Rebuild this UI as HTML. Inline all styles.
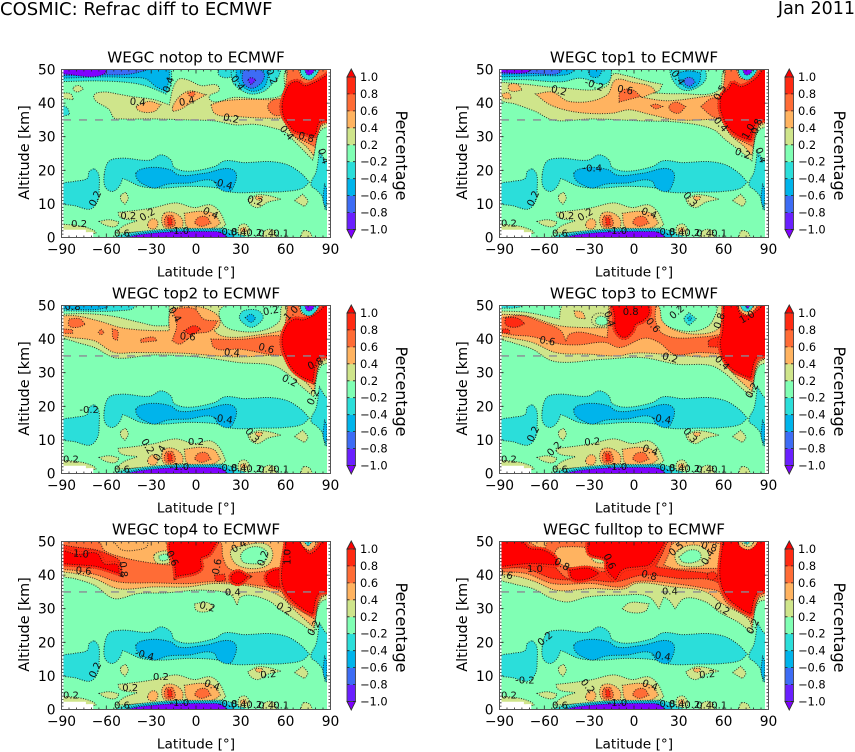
<!DOCTYPE html>
<html lang="en">
<head>
<meta charset="utf-8">
<title>COSMIC: Refrac diff to ECMWF</title>
<style>
html,body{margin:0;padding:0;background:#fff;}
svg{display:block;font-family:"DejaVu Sans","Liberation Sans",sans-serif;}
</style>
</head>
<body>
<svg id="figure" xmlns="http://www.w3.org/2000/svg" width="855" height="752" viewBox="0 0 855 752">
  <text x="0" y="15" font-size="18" fill="#000">COSMIC: Refrac diff to ECMWF</text>
  <text x="855" y="14" font-size="17.5" text-anchor="end" fill="#000">Jan 2011</text>
</svg>
<script>
const latTicks = [-90, -60, -30, 0, 30, 60, 90];
const altTicks = [0, 10, 20, 30, 40, 50];
const levelTicks = [-1, -0.8, -0.6, -0.4, -0.2, 0.2, 0.4, 0.6, 0.8, 1];
const referenceAltitude = [35];
const panelTitles = ["WEGC notop to ECMWF", "WEGC top1 to ECMWF", "WEGC top2 to ECMWF", "WEGC top3 to ECMWF", "WEGC top4 to ECMWF", "WEGC fulltop to ECMWF"];

/* Filled contour regions: [band lower level, [[latitude, altitude], ...]] */
const lowerRegions = [
  [-0.4, [[-61.4,18.7],[-58,22.8],[-50.3,23.6],[-30.2,23.1],[-23.5,24.6],[-16.8,23.1],[-14.5,20.8],[12.3,21.1],[19,22.8],[32.4,22.3],[50.2,22.6],[61.4,21.6],[70.3,19.1],[75.9,16.5],[71.4,14.7],[59.2,13.7],[43.5,13.5],[23.4,13.5],[14.5,14.7],[-5.6,15.2],[-23.5,14.7],[-36.9,15.2],[-46.9,17.2],[-49.1,17.5],[-51.4,15.2],[-55.8,13.7],[-60.3,14.7]]],
  [-0.6, [[-40.2,19.1],[-36.9,20.3],[-16.8,20.1],[-12.3,18.7],[5.6,19.1],[23.4,20.4],[26.8,19.1],[25.7,15.7],[22.3,13.7],[14.5,14.9],[12.3,16.7],[-5.6,16.2],[-19,15.9],[-27.9,14.7],[-33.5,15.5],[-39.1,17.2]]],
  [-0.4, [[-90,15.7],[-81.5,16.7],[-72.6,17.7],[-71.5,19.6],[-68.1,20.6],[-65.4,19.1],[-64.8,14.7],[-65.9,10.7],[-70.3,8.5],[-81.5,9.5],[-90,9.9]]],
  [-0.4, [[77,15.5],[80.4,19.6],[82.6,25.8],[86.4,23.1],[90,21.6],[90,8.7],[86.4,8.2],[84.4,12.2],[80.4,14.2]]],
  [-0.6, [[86,16],[87.5,14],[87,9],[85.5,10]]],
  [0.2, [[-53.6,1.3],[-49.1,3.3],[-39.1,5],[-51.4,6.3],[-52,7.5],[-41.3,8],[-27.9,8.9],[-13.4,10.3],[-1.1,8.9],[10,9.7],[15.6,7.8],[20,3.8],[16.7,2.8],[-5.6,2.3],[-27.9,1.8],[-41.3,1.6]]],
  [0.4, [[-21.2,7.2],[-15.6,7.5],[-9,5.3],[-9,3],[-21.2,3],[-23,5.2]]],
  [0.4, [[-7.8,7.2],[3.3,7.8],[12.3,7],[16.3,4.3],[12.3,3],[-5.6,3]]],
  [0.4, [[-32.4,3.8],[-29,5.6],[-25.7,4.8],[-26.8,2.8],[-31.3,2.8]]],
  [0.6, [[-20,6.3],[-15.6,6.6],[-14,3.8],[-17.9,3],[-20.8,3.8]]],
  [0.6, [[1,5.8],[6.7,6.2],[10,4.3],[3.3,3.3],[-1.1,4.3]]],
  [0.8, [[-19,5.8],[-16.8,5.8],[-16,3.8],[-18.6,3.6]]],
  [-0.4, [[-54.9,0],[-48.2,1],[-28.1,2.2],[-15,2.6],[-5.6,2.7],[8,2.7],[19,2.6],[31.3,0.7],[33,0]]],
  [-0.6, [[-48,0],[-43,0.8],[-28,1.8],[-15,2.2],[-5.6,2.3],[8,2.3],[17,2.2],[24,0.7],[26,0]]],
  [-1.2, [[-46,0],[-41,0.6],[-28,1.3],[-15,1.7],[-5.6,1.8],[8,1.8],[15,1.7],[19.6,0.7],[21,0]]],
  [0.2, [[66,11],[71.4,12.9],[74.8,10.7],[72.5,9.2],[67,10.7]]],
  [0.2, [[34.6,11.2],[41.3,12.7],[48,12.5],[57,11.4],[48,10.5],[41.3,8.9],[36.8,9.7]]],
  [0.4, [[40,12.2],[44.6,12.2],[43.5,11.2],[40,11.5]]],
  [0.2, [[-50.3,12.5],[-47,13.5],[-45.3,11.7],[-47.6,9.9],[-50.3,11.2]]],
  [0.2, [[-64.8,4.8],[-58,5.3],[-51.4,4.6],[-53.6,3.3],[-61.4,3.8]]],
  [0.2, [[-90,4],[-80,3.6],[-72,2.8],[-67,1.5],[-67,1.2],[-90,2]]],
  [0.2, [[29,3.5],[33,4],[36,2],[35,0.8],[28,1]]],
  [0.4, [[30,2.6],[33,3],[34,1.8],[30,1.6]]],
  [0.2, [[46,2],[52,2.2],[54,0],[44,0]]],
  [0.2, [[72,2],[76,1.6],[78,0],[70,0]]]
];
const missingRegion = [[-90,2.3],[-73.7,2.3],[-73.7,1.6],[-68.8,1.6],[-68.8,0],[-90,0]];

const nhOrange = [[60.7,50],[65.9,50],[72.6,46.9],[79.3,48.9],[83.7,50],[90,50],[90,34.7],[83.7,33],[78.8,24.4],[73.7,27.1],[65.9,30],[60.3,33.5],[57.6,36],[57.6,40.5],[60.7,45]];
const nhRedOrange = [[57,38.5],[59.2,43.4],[61.4,50],[68,50],[71.4,47.4],[75.9,47.4],[81.5,49.4],[82.6,50],[90,50],[90,35],[83.7,33.5],[79.7,27],[72.6,28.6],[64.7,30.5],[60.3,34]];
const nhTopTeal = [[69.3,50],[71.4,47.9],[75.9,46.9],[80.4,48.4],[82.6,50]];
const nhTopPurple = [[72.6,50],[74.8,48.4],[78.1,48.9],[79.3,50]];

const notopRegions = [
  [0.2, [[-68.1,42.5],[-61.4,43.3],[-52.5,42.7],[-43.6,42],[-27.9,41],[-17.9,39.5],[-14.5,45.4],[-11.2,47.2],[-5.6,46.9],[3.3,45.2],[14.5,45.2],[15.6,43.9],[8.9,42],[10,40.7],[25.7,41.7],[45.8,41.3],[58,42.7],[60.7,50],[90,50],[90,33.5],[83.7,32],[78.1,23.1],[72.6,25.6],[65.9,28.6],[59.2,31.5],[52.5,32.5],[39.1,33.7],[26.8,33.5],[12.3,34.7],[-5.6,35],[-27.9,35.3],[-50.3,35.3],[-54.7,35.5],[-58,38],[-68.1,41.3]]],
  [0.4, [[-40.2,39],[-31.3,40.5],[-23.5,39.5],[-27.9,37.5],[-39.1,38]]],
  [0.4, [[-15.6,39],[-5.6,43.5],[6.7,42.5],[-3.4,40],[-11.2,38],[-15.6,37.5]]],
  [0.4, [[10,39.5],[16.7,40.5],[48,41],[58,40.5],[61.4,35.5],[48,35.5],[28,36],[12.3,37]]],
  [0.6, [[-5.6,43],[-1,43.5],[-1,42.3],[-4,42]]],
  [0.6, [[48,39],[52,41],[58,41],[60,36.5],[52,36.5]]],
  [0.4, nhOrange],
  [0.6, nhRedOrange],
  [1, [[57.6,39],[59.6,43],[63.6,45.9],[68.1,46.4],[72.6,45.2],[79.3,46.2],[86,47.9],[90,49.4],[90,35.5],[82.6,34.3],[78.8,30.4],[72.6,31],[65.9,31.7],[61.4,34],[58.7,36]]],
  [-0.4, [[-90,46.4],[-65.9,46.6],[-46.9,46.2],[-35.7,45.4],[-27.9,44.2],[-20.1,42.7],[-16.8,45.4],[-16.3,50],[-90,50]]],
  [-0.6, [[-90,47.4],[-60.3,47.8],[-45.8,47.6],[-33.5,47.2],[-26.8,44.9],[-20.1,43.5],[-17.9,47.4],[-17.9,50],[-90,50]]],
  [-0.8, [[-90,48.2],[-60.3,48.4],[-44.7,48.6],[-31.3,50],[-90,50]]],
  [-1.2, [[-90,48.7],[-61.4,48.7],[-59.6,50],[-90,50]]],
  [-0.4, [[14.5,50],[15.6,48.2],[23.4,47.9],[24.6,50]]],
  [-0.4, [[23.4,50],[24.6,46.2],[27.9,44.6],[36.8,42.7],[45.8,43.6],[51.4,45.9],[54.7,47.4],[56.9,50]]],
  [-0.6, [[26.8,50],[27.5,46.9],[31.3,44.9],[38,43.5],[45.8,44.9],[48,47.4],[49.1,50]]],
  [-0.8, [[31.3,49.7],[31.3,46.4],[36.8,44.4],[43.5,45.9],[45.8,48.4],[43.5,49.7]]],
  [-1, [[34.6,46.9],[36.8,45.4],[40.2,46.9],[36.8,47.6]]],
  [0.2, [[-82,44.6],[-78.2,45.2],[-75.3,44.2],[-79.3,43.3],[-82,43.9]]],
  [0.2, [[-90,43],[-83.7,42.7],[-82,41],[-90,41.5]]],
  [-0.4, [[-90,39.5],[-86,38.5],[-84.5,36.6],[-90,36]]],
  [-0.4, nhTopTeal],
  [-1.2, nhTopPurple]
];

const top1Regions = [
  [0.2, [[-88.7,46.2],[-72.6,45.6],[-50.3,44.6],[-17.9,45.2],[-14,48.6],[-5.6,48.2],[10,46.4],[19,45.6],[16.7,43.7],[12.3,43],[30,42.8],[57,44],[60.7,50],[90,50],[90,33.5],[83.7,32],[78.8,22.8],[70.3,26],[61.4,29],[53.6,32],[30,34.3],[5.6,34.7],[-27.9,35.3],[-54.7,35],[-65.9,37.5],[-79.3,39.7],[-90,41.3]]],
  [0.4, [[-65.9,42.7],[-54.7,43.3],[-43.6,40.5],[-17.9,42.5],[-12.3,46.9],[-1.1,46.2],[12.3,44.6],[14.5,43.3],[5.6,41.7],[21.2,40.7],[48,42],[59.2,42.7],[60.3,35.5],[43.5,35],[27.9,35],[10,36.7],[-3.4,38],[-14.5,37],[-41.3,37.5],[-57,39.7]]],
  [0.4, [[-83.7,45.4],[-78,45.6],[-74.8,43.9],[-81.5,43.5],[-84,44.2]]],
  [0.4, [[-88.7,42.7],[-83.7,43],[-82,41.3],[-87,41.5]]],
  [0.6, [[-10,40.5],[-9,43.5],[-1,44],[4.5,42],[-10,40.3]]],
  [0.6, [[11,39.3],[14.5,39.7],[19,39],[14.5,38.3]]],
  [0.6, [[23.4,39],[27.9,40.3],[34.6,39],[30,37],[24.6,37.7]]],
  [0.6, [[44.6,39],[52.5,41.5],[59,41],[60.3,35],[52.5,36]]],
  [0.4, nhOrange],
  [0.6, nhRedOrange],
  [1, [[57.6,39],[59,42.5],[63.6,44.4],[65.9,45.9],[71.4,44.9],[81.5,47.4],[87,50],[90,50],[90,35.5],[82.6,34.5],[78,29],[71.4,30],[64.7,32],[60.3,35]]],
  [-0.4, [[-90,46.8],[-75,47],[-47,46.4],[-37,47.4],[-31,47],[-27,46.2],[-20,45.6],[-16,47],[-15,50],[-90,50]]],
  [-0.6, [[-90,47.8],[-60,48.2],[-50,48.2],[-42,49],[-40,50],[-90,50]]],
  [-0.6, [[-31,50],[-29,48],[-24,47.8],[-21,50]]],
  [-0.8, [[-90,48.6],[-68,48.8],[-50,49],[-48,50],[-90,50]]],
  [-1.2, [[-90,49.1],[-72,49.1],[-68,50],[-90,50]]],
  [-0.4, [[23.7,50],[25.7,47],[32.4,44],[39,44],[48,47],[48,50]]],
  [-0.6, [[29,49],[31.3,46],[36.8,44.4],[43.5,46],[44.7,49],[36.8,49.6]]],
  [-0.8, [[33.5,46.4],[36.8,45],[40.8,46.2],[39,47.4],[34.6,47.4]]],
  [-0.4, nhTopTeal],
  [-1.2, nhTopPurple]
];

const top2Regions = [
  [0.2, [[-90,47.4],[-74.8,47.6],[-57,46.9],[-37,44.9],[-28,44],[-18,44],[-18,50],[19,50],[15.6,48.4],[19,44],[30,42.3],[45.8,42.7],[55.8,45.4],[58,50],[90,50],[90,33.5],[83.7,32],[78.8,22.8],[70.3,26],[60.3,30],[52.5,32],[29,33],[5.6,34.5],[-28,35.3],[-54.7,34.5],[-68,37.5],[-81.5,39.3],[-90,41]]],
  [0.4, [[-90,46.4],[-84,47],[-65,45.4],[-50,43.4],[-28,42.5],[-18,42.5],[-17,48],[-12,49.5],[3.3,49.5],[15.6,46.4],[15.6,44],[12,42.5],[16.7,41],[45.8,41.5],[59,42.7],[60,35.5],[27,34.7],[-9,35.8],[-41,36],[-54.7,36],[-68,39.5],[-86,40.7],[-90,41.3]]],
  [0.6, [[-85,46],[-77.7,46],[-74,44.4],[-79,43.5],[-85,44]]],
  [0.6, [[-88.7,43],[-82.6,42.8],[-82.6,41.7],[-88.7,41.7]]],
  [0.6, [[-63.6,43],[-61.4,42],[-63.6,41.3],[-65.4,42]]],
  [0.6, [[-56,43],[-52.5,42.5],[-52.5,39.7],[-55,40]]],
  [0.6, [[-37,40],[-28,40.5],[-26,39.5],[-37,39]]],
  [0.6, [[-16,49],[-1,49],[5,46],[14.5,45.4],[10,42.5],[-1,41.5],[-5.6,40],[-11,38.5],[-16,39.5],[-13,44]]],
  [0.6, [[10,40],[32,40],[50,41],[59,41],[60,35],[48,35.5],[37,36.5],[30,37],[12,37.5]]],
  [0.8, [[-8,42.5],[-1,44],[3.3,43],[-3.4,41.3]]],
  [0.4, nhOrange],
  [0.6, nhRedOrange],
  [1, [[57.6,39],[59,42.5],[62.5,45],[67,46],[71.4,45.7],[81.5,47.9],[87,50],[90,50],[90,35.5],[82.6,34.7],[78,27.4],[71.4,28.6],[64.7,31],[60.3,34.5]]],
  [-0.4, [[-90,48.4],[-50,48.5],[-42,49.2],[-41,50],[-90,50]]],
  [-0.6, [[-90,49],[-60,49.4],[-58,50],[-90,50]]],
  [-0.4, [[29,46.4],[32,44.6],[37,43.5],[42,44.6],[45,46.6],[42,48.4],[36,48.8],[31,48.2]]],
  [-0.6, [[33,46.4],[36.8,45],[40,46.2],[37,47.4]]],
  [-0.4, nhTopTeal],
  [-1.2, nhTopPurple]
];

const top3Regions = [
  [0.2, [[-90,48.4],[-72.6,48],[-50,46],[-47.6,50],[16,50],[17,46.4],[22,44],[39,42.3],[50,44],[54.7,47.4],[57,50],[90,50],[90,33.5],[83.7,32],[78.8,22.8],[70.3,26],[60.3,30],[52.5,32],[29,32.5],[5.6,34.5],[-21,34],[-54.7,33.5],[-68,37],[-81.5,39],[-90,40.5]]],
  [0.4, [[-90,47.4],[-72.6,47],[-50,44],[-30,43.4],[-18,43.4],[-17,50],[16,50],[19,45.4],[25.7,43],[43.5,41.5],[57,43.4],[59,50],[90,50],[90,35],[83.7,33],[78.8,24.4],[65.9,30],[60.3,34],[43.5,34.7],[25.7,35.3],[-1,35.8],[-10,35],[-30,35.5],[-52.5,36],[-68,39],[-83.7,40.5],[-90,41.3]]],
  [0.2, [[-28,46.5],[-25,47.6],[-20,47.6],[-17.5,46.5],[-17.5,44.8],[-20,43.8],[-25,43.8],[-28,44.8]]],
  [0, [[-25.5,46],[-23,46.8],[-20,46.6],[-18,46],[-18,44.8],[-20,44.2],[-23,44.2],[-25.5,44.8]]],
  [0.4, [[-40,48.4],[-34.6,48],[-32.4,46],[-39,46.7]]],
  [0.6, [[-89,46.4],[-74.8,47],[-61.4,45],[-49,42.5],[-45.6,39.5],[-43,41.5],[-18,40.5],[-16,50],[14.5,50],[14.5,45.4],[19,41.7],[48,40.7],[58.7,41.5],[60.3,35.5],[43.5,36],[26.8,35.5],[16.7,39],[8,40.3],[-10,37.5],[-19,39],[-37,38.3],[-49,38.5],[-68,40.7],[-86,41.7],[-89,42.5]]],
  [0.8, [[-86,46.4],[-77.7,46.2],[-73,44.6],[-79.3,43.5],[-86,44.4]]],
  [0.8, [[-88,43],[-83.7,42.8],[-83.2,41.8],[-88,41.8]]],
  [0.8, [[50,39.5],[57,40.7],[59,37.5],[50,37.7]]],
  [1, [[-14.5,50],[9,50],[10,47.4],[5.6,45.4],[1,44.4],[-1,42.5],[-6.7,40.5],[-12,42.5],[-13,47]]],
  [0.6, nhRedOrange],
  [1, [[57.6,39],[59,41.5],[60.3,50],[68,50],[71.4,47.4],[75.9,46.9],[83.7,49],[86,50],[90,50],[90,35.5],[82.6,34.7],[78,28.4],[71.4,29.6],[64.7,31.5],[60.3,34]]],
  [-0.4, [[33.5,46],[36.8,47.9],[41.7,46],[36.8,44]]],
  [-0.6, [[36,46.2],[37.5,46.8],[38.6,46],[37,45.4]]],
  [-0.4, [[-90,49.2],[-78,49.4],[-74,50],[-90,50]]],
  [0.4, [[69.3,50],[71.4,48.2],[75.9,47.2],[80.4,48.6],[82.6,50]]],
  [-0.4, [[71,50],[73,48.6],[76,48.2],[78.6,49],[80,50]]],
  [-1.2, [[74.5,50],[76,49],[77.5,50]]]
];

const top4Regions = [
  [0.2, [[-90,40],[-81.5,39],[-68,37],[-54.7,33],[-39,34.5],[-21,34.7],[5.6,35.5],[23.4,34],[27.5,31],[30,33.5],[48,32.5],[57,29.5],[70.3,25.6],[78.8,22.8],[83.7,32],[90,33.5],[90,50],[-90,50]]],
  [0.2, [[-1,31.5],[8,31.8],[12,30.5],[8,29.2],[0,29.6]]],
  [0.4, [[-90,41],[-81.5,40.5],[-68,39],[-52.5,36],[-28,36.5],[-5.6,36.5],[12.3,37.5],[43.5,36],[57,33.5],[65,30],[78.8,24.4],[83.7,33],[90,35],[90,50],[-90,50]]],
  [0.2, [[-28,46],[-24,47],[-19,47],[-17.4,45.5],[-17,44],[-21,43.4],[-26,43.6],[-28,44.6]]],
  [0, [[-25,45.6],[-22,46.2],[-19,46],[-18.6,45],[-20,44.4],[-24,44.5]]],
  [0.6, [[-90,50],[-65,50],[-61.4,47.4],[-50,45.4],[-30,43.6],[-18,43],[-17,50],[16,50],[18,45.4],[22,42],[59,41.7],[60.3,50],[90,50],[90,35],[83.7,33.5],[79.7,26.8],[71.4,29],[61.4,32],[57,35],[39,37],[10,38],[-3.4,37.5],[-28,37.7],[-52.5,38],[-66,40],[-79.3,41.3],[-90,41.7]]],
  [0.4, [[-55,50],[-50,47.6],[-38,47.6],[-33,48.4],[-32,50]]],
  [0.2, [[23.4,47.4],[30,48.6],[48,49],[51.4,46.4],[48,43],[30,42.5],[24.6,44.4]]],
  [0, [[30,46],[34.6,48],[43.5,48.2],[48,46.4],[45.8,44],[36.8,43.4],[31.3,44]]],
  [0.8, [[-90,49],[-81.5,48.4],[-66,47.4],[-58,46],[-51.4,44.4],[-49,39.5],[-61.4,41.5],[-72.6,43],[-90,43]]],
  [1, [[-89,47.4],[-80,46.2],[-66,46.4],[-61.4,43.4],[-52.5,43],[-51.4,40.5],[-66,42.5],[-77,43],[-89,43.4]]],
  [1, [[-17,50],[14,50],[8,46],[3.3,45],[3.3,42],[-13.4,39.5],[-14.5,43.4],[-18,48.5]]],
  [0.8, [[12.3,40],[19,40.3],[20,38.5],[13.4,38.3]]],
  [1, [[23.4,39.5],[28,41],[34.6,39.5],[29,37.5],[24.6,38]]],
  [1, [[47,39.5],[52.5,41.5],[59,41],[60,36.5],[50,37]]],
  [1, [[57.6,37.5],[60.3,50],[69,50],[72.6,47.9],[76,46.4],[81.5,48],[85,50],[90,50],[90,35.5],[82.6,34.7],[78,28.4],[71.4,30],[61.4,34]]],
  [0.4, [[69.5,50],[72,48.4],[76,47.4],[80,49],[81.5,50]]],
  [-0.4, [[72,50],[75,48.6],[78,50]]]
];

const fulltopRegions = [
  [0.2, [[-90,39],[-81.5,37.5],[-68,36],[-54.7,33],[-44.7,32],[-31,33.5],[-10,34],[10,33.5],[16.7,30],[20,33.5],[23.4,32.5],[27.5,30],[33.5,33],[48,32],[57,29],[70.3,25.8],[78.8,22.8],[83.7,32],[90,33],[90,50],[-90,50]]],
  [0.2, [[-8,30],[-3.4,31.7],[10,31.5],[8,29.4],[-3.4,29]]],
  [0.4, [[-90,40.3],[-77,39.5],[-66,38],[-52.5,35.5],[-28,36],[-5.6,36],[1,37.5],[25.7,36.5],[48,35],[59,31.5],[77,26.6],[78.8,24.4],[83.7,33],[90,34.5],[90,50],[-90,50]]],
  [0.6, [[-90,41],[-72.6,40.5],[-54.7,37.5],[-28,37.5],[-8,36.5],[1,38],[25.7,37.5],[48,36],[57,35],[61.4,32],[76,27.6],[79.7,26.8],[83.7,33.5],[90,35.5],[90,50],[-90,50]]],
  [0.8, [[-90,42],[-72.6,42],[-54.7,39],[-28,38.5],[-12.5,38],[5.6,40],[30,39],[57,37.5],[61.4,33.5],[78,28.5],[83.7,34.5],[90,36],[90,50],[-90,50]]],
  [0.6, [[-75,50],[-31,50],[-18,44.4],[-18,41],[-24,41],[-44,39],[-52,42],[-62,46.4],[-70,48]]],
  [0.4, [[-70,50],[-58,50],[-60,47.6],[-65,48.4]]],
  [0.4, [[-51,48],[-46,48.4],[-30,48],[-18,46],[-18,42],[-30,42.5],[-45,42.5],[-53,45.2]]],
  [0.2, [[-28,46.8],[-20,46.6],[-18.4,45],[-20,43.8],[-28,44.6]]],
  [1, [[-90,50],[-75,50],[-70,48],[-61,47.5],[-52.5,45],[-51.4,43],[-70.3,43.4],[-90,42.5]]],
  [1, [[-31,50],[21,50],[14.5,45.4],[10,43],[3.3,42.5],[-8,41.5],[-12.3,38.5],[-18,41.5],[-19,44.5],[-30,46.5]]],
  [1, [[-43,41.5],[-30,42],[-23.5,40.5],[-30,39],[-41.3,39]]],
  [0.6, [[23.4,50],[61.4,50],[59,39.5],[50,40.5],[30,41.5],[14.5,42.5],[19,46.4]]],
  [0.4, [[26,49.4],[58,49.4],[58.7,42],[43.5,42],[26.8,42],[20,43],[23.4,46.4]]],
  [0.2, [[27.7,46.4],[34.6,48.6],[44.7,48.6],[50,46.4],[48,43.4],[36.8,42.5],[29,43.5]]],
  [0, [[30,45.4],[36.8,47.4],[43.5,47],[44.7,45],[39,43.7],[32.4,44]]],
  [0.8, [[49,40],[53,41],[56,40],[53,38.6],[50,38.8]]],
  [1, [[57.6,39],[59.5,50],[90,50],[90,36],[82.6,34.7],[78,28.4],[71.4,30],[61.4,34]]],
  [0.4, [[69.3,50],[71.4,48.4],[76.9,47.6],[81.5,49],[82.6,50]]],
  [0.2, [[71.4,50],[74,48.8],[78,48.6],[80,50]]],
  [-0.4, [[72.6,50],[75.9,49.2],[77.6,50]]]
];

/* Contour labels: [text, latitude, altitude, rotation in degrees] */
const sharedLabels = [["0.6",-49.6,1,0],["-1.0",-11.2,1.8,0],["-0.8",21.2,1.5,0],["0.4",28.6,1.3,0],["0.2",39,1.2,0],["0.4",47,1.1,0],["0.1",57,1.1,0]];
const notopLabels = [["0.4",-39.1,40.1,5],["0.4",-6,40.3,-10],["0.4",-17.9,45.4,-70],["0.4",27.5,45.9,55],["0.2",50.2,47.9,70],["0.2",23.4,35.2,10],["0.4",60.3,31,50],["0.8",73.7,29.6,15],["0.4",84.8,24.1,70],["-0.4",17.9,15.7,15],["0.2",-67,11.5,-65],["0.2",39.5,10.7,15],["0.2",-45.3,6.3,0],["0.2",-32.4,6.6,-30],["0.4",9.6,7,25],["0.2",-78.2,3.8,0]];
const top1Labels = [["0.2",-50.3,43.5,15],["-0.2",-26.8,45.2,20],["0.6",-6,43.7,10],["0.4",29,47.4,55],["0.5",58,43,-60],["0.4",57.6,33.5,50],["1.0",77,31.5,-60],["0.8",82.6,33,-70],["0.2",72.6,24.8,20],["0.4",84.4,24.4,70],["-0.4",-27.9,20.4,0],["0.2",-67,11.5,-65],["0.3",37.3,11.2,50],["0.2",-45.3,6.3,0],["0.2",-32.4,6.6,-30],["0.4",10,7,20],["0.2",-83.7,4,0]];
const top2Labels = [["0.8",-82.6,49.4,0],["0.4",-14.5,47.2,60],["0.2",50.2,48.2,-10],["1.0",64,47.6,-45],["0.6",-5.6,40.5,5],["0.6",46.9,37,15],["0.4",24,35.7,5],["0.8",80,32.5,-25],["0.2",62.5,27.4,25],["0.2",78.8,22.6,-65],["-0.2",-71.5,18.7,0],["-0.4",17.9,16,10],["0.3",37.3,11.2,50],["0.2",0,9.3,0],["0.2",-32.8,8,60],["0.4",-23.9,6,-60],["0.2",-83.7,4,0]];
const top3Labels = [["0.8",-2.2,47.9,0],["0.4",-16.8,45.9,70],["0.2",29,47.9,-40],["0.8",57.6,45.4,-70],["1.0",75.9,46.4,-30],["0.6",-58,39.2,10],["0.6",12.3,44,50],["0.2",24,34.2,15],["0.4",58.7,32.8,45],["0.2",79.3,24.6,-60],["-0.4",18.3,16,10],["0.2",-67,11.7,-65],["0.3",37.3,11.2,50],["0.2",-27.9,9.2,-5],["0.2",-53,7.2,-45],["0.4",10.7,6.7,20],["0.2",-83.7,4,0]];
const top4Labels = [["1.0",-77,46.1,5],["0.6",-75.3,41,5],["0.8",-49.1,41.7,85],["0.6",-16.3,44.9,65],["0.6",14.5,42.5,-80],["0.4",29,48.4,-30],["0.2",45.3,44.9,-70],["1.0",61.4,45.4,-90],["0.4",24.6,34.7,0],["0.2",7.4,30.4,15],["0.2",58.7,29.8,30],["0.2",79.3,24.1,-60],["-0.4",-34.6,16,15],["0.2",-67,11.7,-65],["0.2",-23.5,9.5,0],["0.2",-44,6.3,0],["0.4",10.5,7,20],["0.2",48.4,10.2,-5],["0.2",-83.7,4,0]];
const fulltopLabels = [["1.0",-66.3,41.7,0],["0.6",-86.4,40,15],["0.8",-48.5,43,30],["0.6",-16.8,44,65],["0.8",10,39.7,15],["0.5",28.6,47.6,-40],["0.8",50.2,48.2,15],["0.4",49.8,45.2,-60],["0.4",24,35,0],["0.2",58.7,29.8,30],["0.2",80,24.6,-60],["0.2",-59.2,20.9,-40],["-0.4",17.9,15.7,10],["-0.2",-73,8.5,0],["0.2",49,10.2,-5],["0.2",-31.3,6.8,50],["0.4",10.5,7,20],["0.2",-83.7,4,0]];

const panelRegions = [notopRegions, top1Regions, top2Regions, top3Regions, top4Regions, fulltopRegions];
const panelLabels = [notopLabels, top1Labels, top2Labels, top3Labels, top4Labels, fulltopLabels];

const SVGNS = "http://www.w3.org/2000/svg";
const figure = document.getElementById("figure");
const plotW = 269, plotH = 168;
const panelLefts = [61.5, 499.5];
const panelTops = [69.5, 305.5, 541.5];

function bandColor(level) {
  if (level <= -1.2) return "#7f00ff";
  if (level <= -1) return "#6a20ff";
  if (level <= -0.8) return "#3d6cf5";
  if (level <= -0.6) return "#00b4eb";
  if (level <= -0.4) return "#2bdeda";
  if (level <= 0) return "#80ffb4";
  if (level <= 0.2) return "#cfe58b";
  if (level <= 0.4) return "#ffb360";
  if (level <= 0.6) return "#ff6c36";
  if (level <= 0.8) return "#ff2a12";
  return "#ff0000";
}
function make(tag, attrs, parent, text) {
  const node = document.createElementNS(SVGNS, tag);
  for (const key in attrs) node.setAttribute(key, attrs[key]);
  if (text !== undefined) node.textContent = text;
  parent.appendChild(node);
  return node;
}
function fmt(v) {
  const s = Math.abs(v) < 1e-9 ? "0" : String(v);
  return s.replace("-", "\u2212");
}
function fmt1(v) {
  return v.toFixed(1).replace("-", "\u2212");
}
function smoothPath(points, xScale, yScale) {
  const pts = points.map(p => [xScale(p[0]), yScale(p[1])]);
  const n = pts.length;
  const unit = (a, b) => {
    const dx = b[0] - a[0], dy = b[1] - a[1];
    const len = Math.hypot(dx, dy) || 1;
    return [dx / len, dy / len, len];
  };
  /* tangents: sharp corners stay corners, everything else is rounded */
  const inT = [], outT = [];
  for (let i = 0; i < n; i++) {
    const u = unit(pts[(i - 1 + n) % n], pts[i]);
    const v = unit(pts[i], pts[(i + 1) % n]);
    if (u[0] * v[0] + u[1] * v[1] < 0.15) {
      inT.push(u);
      outT.push(v);
    } else {
      const t = unit([0, 0], [u[0] + v[0], u[1] + v[1]]);
      inT.push(t);
      outT.push(t);
    }
  }
  let d = "M" + pts[0][0].toFixed(1) + " " + pts[0][1].toFixed(1);
  for (let i = 0; i < n; i++) {
    const j = (i + 1) % n;
    const len = unit(pts[i], pts[j])[2] * 0.32;
    d += "C" + (pts[i][0] + outT[i][0] * len).toFixed(1) + " " + (pts[i][1] + outT[i][1] * len).toFixed(1) + " " +
         (pts[j][0] - inT[j][0] * len).toFixed(1) + " " + (pts[j][1] - inT[j][1] * len).toFixed(1) + " " +
         pts[j][0].toFixed(1) + " " + pts[j][1].toFixed(1);
  }
  return d + "Z";
}
function drawRegion(group, region, xScale, yScale) {
  const d = smoothPath(region[1], xScale, yScale);
  const color = bandColor(region[0]);
  if (region[0] >= 1) {
    const haloLine = make("path", {d: d, fill: "none", stroke: "#301008", "stroke-width": 5.4, "stroke-dasharray": "1 1.4", opacity: 0.8}, group);
    
    
    const halo = make("path", {d: d, fill: "#ff2a12", stroke: "#ff2a12", "stroke-width": 4.6, "stroke-linejoin": "round"}, group);
    
    
  }
  const band = make("path", {d: d, fill: color}, group);
  
  
  const line = make("path", {d: d, fill: "none", stroke: "#111", "stroke-width": 1, "stroke-dasharray": "1 1.4", opacity: 0.85}, group);
  
  
}
function drawAxisFrame(group, x0, y0, xScale, yScale) {
  const lines = [];
  for (let lat = -90; lat <= 90; lat += 5) {
    const major = latTicks.indexOf(lat) >= 0;
    const len = major ? 4 : 2;
    lines.push([xScale(lat), y0, xScale(lat), y0 + len]);
    lines.push([xScale(lat), y0 + plotH, xScale(lat), y0 + plotH - len]);
  }
  for (let alt = 0; alt <= 50; alt += 1) {
    const major = altTicks.indexOf(alt) >= 0;
    const len = major ? 4 : 2;
    lines.push([x0, yScale(alt), x0 + len, yScale(alt)]);
    lines.push([x0 + plotW, yScale(alt), x0 + plotW - len, yScale(alt)]);
  }
  const d = lines.map(l => "M" + l[0].toFixed(1) + " " + l[1].toFixed(1) + "L" + l[2].toFixed(1) + " " + l[3].toFixed(1)).join("");
  const ticks = make("path", {d: d, stroke: "#222", "stroke-width": 0.8, fill: "none"}, group);
  
  
  const frame = make("rect", {x: x0, y: y0, width: plotW, height: plotH, fill: "none", stroke: "#555", "stroke-width": 1}, group);
  
  
}
function drawColorbar(group, x0, y0) {
  const barX = x0 + 285.5, barW = 8.5;
  const step = 152.5 / (levelTicks.length - 1);
  const levelY = i => y0 + 7.5 + (levelTicks.length - 1 - i) * step;
  const tipTop = make("path", {d: "M" + barX + " " + (y0 + 7.5) + "L" + (barX + barW / 2) + " " + (y0 - 0.5) + "L" + (barX + barW) + " " + (y0 + 7.5) + "Z", fill: "#ff0000", stroke: "#333", "stroke-width": 0.9}, group);
  
  
  const tipBottom = make("path", {d: "M" + barX + " " + (y0 + 160) + "L" + (barX + barW / 2) + " " + (y0 + 168.5) + "L" + (barX + barW) + " " + (y0 + 160) + "Z", fill: "#7f00ff", stroke: "#333", "stroke-width": 0.9}, group);
  
  
  for (let i = 0; i < levelTicks.length - 1; i++) {
    const level = levelTicks[i] === -0.2 ? 0 : levelTicks[i];
    const seg = make("rect", {x: barX, y: levelY(i + 1), width: barW, height: step + 0.3, fill: bandColor(level)}, group);
    
    
  }
  const outline = make("rect", {x: barX, y: y0 + 7.5, width: barW, height: 152.5, fill: "none", stroke: "#444", "stroke-width": 0.9}, group);
  
  
  levelTicks.forEach((v, i) => {
    const yy = levelY(i);
    const tick = make("path", {d: "M" + barX + " " + yy.toFixed(1) + "h2.5M" + (barX + barW) + " " + yy.toFixed(1) + "h-2.5", stroke: "#222", "stroke-width": 0.8}, group);
    
    
    const label = make("text", {x: barX + barW + 4.5, y: (yy + 4).toFixed(1), "font-size": 11.4, fill: "#000"}, group, fmt1(v));
    
    
  });
  const title = make("text", {x: 0, y: 0, "font-size": 16, fill: "#000", "text-anchor": "middle", transform: "translate(" + (x0 + 334.5) + " " + (y0 + 86) + ") rotate(90)"}, group, "Percentage");
  
  
}
function drawPanel(index) {
  const col = index % 2, row = Math.floor(index / 2);
  const x0 = panelLefts[col], y0 = panelTops[row];
  const xScale = lat => x0 + (lat + 90) / 180 * plotW;
  const yScale = alt => y0 + plotH - alt / 50 * plotH;
  const group = make("g", {}, figure);
  
  
  const clipId = "plot-clip-" + index;
  const defs = make("defs", {}, group);
  const clip = make("clipPath", {id: clipId}, defs);
  make("rect", {x: x0 + 2, y: y0 + 0.5, width: plotW - 5.5, height: plotH - 0.5}, clip);

  const plot = make("g", {"clip-path": "url(#" + clipId + ")"}, group);
  
  
  const bg = make("rect", {x: x0, y: y0, width: plotW, height: plotH, fill: bandColor(0)}, plot);
  
  
  panelRegions[index].forEach(r => drawRegion(plot, r, xScale, yScale));
  lowerRegions.forEach(r => drawRegion(plot, r, xScale, yScale));
  const missing = make("polygon", {points: missingRegion.map(p => xScale(p[0]).toFixed(1) + "," + yScale(p[1]).toFixed(1)).join(" "), fill: "#fff"}, plot);
  
  
  referenceAltitude.forEach(alt => {
    const ref = make("line", {x1: xScale(-89), x2: xScale(86), y1: yScale(alt), y2: yScale(alt), stroke: "#8a8a94", "stroke-width": 1.4, "stroke-dasharray": "8 8"}, plot);
    
    
  });
  panelLabels[index].concat(sharedLabels).forEach(l => {
    const t = make("text", {x: 0, y: 0, "font-size": 10, fill: "#111", "text-anchor": "middle", "dominant-baseline": "central", transform: "translate(" + xScale(l[1]).toFixed(1) + " " + yScale(l[2]).toFixed(1) + ") rotate(" + l[3] + ")"}, plot, l[0]);
    
    
  });

  drawAxisFrame(group, x0, y0, xScale, yScale);

  latTicks.forEach(v => {
    const t = make("text", {x: xScale(v).toFixed(1), y: y0 + plotH + 16.5, "font-size": 13.8, "text-anchor": "middle", fill: "#000"}, group, fmt(v));
    
    
  });
  altTicks.forEach(v => {
    const t = make("text", {x: x0 - 6, y: (yScale(v) + 5).toFixed(1), "font-size": 13.8, "text-anchor": "end", fill: "#000"}, group, fmt(v));
    
    
  });
  const title = make("text", {x: x0 + plotW / 2, y: y0 - 7, "font-size": 15.2, "text-anchor": "middle", fill: "#000"}, group, panelTitles[index]);
  
  
  const xLabel = make("text", {x: x0 + plotW / 2, y: y0 + plotH + 39, "font-size": 13.7, "text-anchor": "middle", fill: "#000"}, group, "Latitude [\u00b0]");
  
  
  const yLabel = make("text", {x: 0, y: 0, "font-size": 14.4, "text-anchor": "middle", fill: "#000", transform: "translate(" + (x0 - 32.5) + " " + (y0 + plotH / 2 - 1) + ") rotate(-90)"}, group, "Altitude [km]");
  
  
  drawColorbar(group, x0, y0);
}
panelTitles.forEach((_, i) => drawPanel(i));
</script>
</body>
</html>
